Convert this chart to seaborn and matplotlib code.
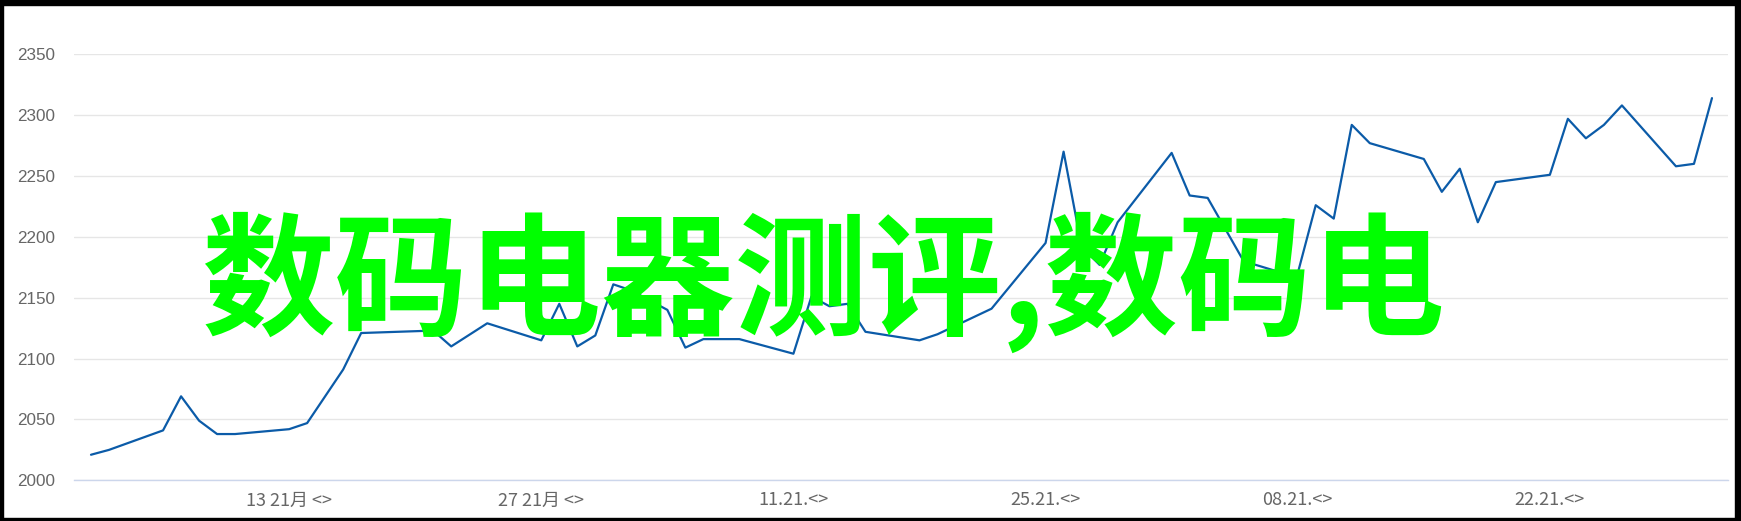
import numpy as np
import pandas as pd
import seaborn as sns
import matplotlib.pyplot as plt
from matplotlib.patches import Rectangle

# data (x = day offset, y = value)
days = [0, 1, 4, 5, 6, 7, 8, 11, 12, 14, 15, 19, 20, 22, 25, 26, 27, 28, 29, 30,
        32, 33, 34, 36, 39, 40, 41, 42, 43, 46, 47, 49, 50, 53, 54, 55, 56, 57,
        60, 61, 62, 64, 66, 67, 68, 69, 70, 71, 74, 75, 76, 77, 78, 81, 82, 83,
        84, 85, 88, 89, 90]
values = [2021, 2025, 2041, 2069, 2049, 2038, 2038, 2042, 2047, 2091, 2121, 2123,
          2110, 2129, 2115, 2145, 2110, 2119, 2161, 2156, 2140, 2109, 2116, 2116,
          2104, 2151, 2143, 2145, 2122, 2115, 2120, 2134, 2141, 2195, 2270, 2192,
          2177, 2212, 2269, 2234, 2232, 2180, 2171, 2170, 2226, 2215, 2292, 2277,
          2264, 2237, 2256, 2212, 2245, 2251, 2297, 2281, 2292, 2308, 2258, 2260,
          2314]

tick_days = [11, 25, 39, 53, 67, 81]
tick_labels = ["13 21月 <>", "27 21月 <>", "11.21.<>", "25.21.<>", "08.21.<>", "22.21.<>"]
y_ticks = [2000, 2050, 2100, 2150, 2200, 2250, 2300, 2350]
overlay = "数码电器测评,数码电"

df = pd.DataFrame({"day": days, "value": values})

sns.set_style("white")
plt.rcParams["font.family"] = ["Liberation Sans", "Noto Sans CJK SC", "DejaVu Sans"]

W, H = 1741, 521
fig = plt.figure(figsize=(W / 100, H / 100), dpi=100)
ax = fig.add_axes([74 / W, 1 - 480.3 / H, (1728 - 74) / W, (480.3 - 54.3) / H])

sns.lineplot(data=df, x="day", y="value", ax=ax, color="#0b5ba8",
             linewidth=1.6, estimator=None)

ax.set_xlim(-0.944, 90.89)
ax.set_ylim(2000, 2350)
ax.set_yticks(y_ticks)
ax.set_yticklabels([str(v) for v in y_ticks])
ax.set_xticks(tick_days)
ax.set_xticklabels(tick_labels, family=["Liberation Sans Narrow", "Noto Sans CJK SC"],
                   fontsize=13, color="#666666", fontstretch="condensed")
ax.set_xlabel("")
ax.set_ylabel("")

ax.grid(axis="y", color="#e6e6e6", linewidth=1.0)
ax.grid(axis="x", visible=False)
for s in ["top", "right", "left"]:
    ax.spines[s].set_visible(False)
ax.spines["bottom"].set_color("#ccd6eb")
ax.spines["bottom"].set_linewidth(1.0)
ax.tick_params(axis="y", length=0, pad=13.5, labelsize=12.3, labelcolor="#666666")
ax.tick_params(axis="x", length=7, width=1, color="#ccd6eb", pad=1)

# big green overlay text
fig.text(201 / W, 1 - 283 / H, overlay, color="#00ff00", fontsize=96,
         fontweight="heavy", family=["Noto Sans CJK SC"], ha="left", va="center")

# black frame around the picture
for x0, y0, w, h in [(0, 0, 3, H), (W - 6, 0, 6, H), (0, 0, W, 5), (0, H - 3, W, 3)]:
    fig.add_artist(Rectangle((x0 / W, 1 - (y0 + h) / H), w / W, h / H,
                             transform=fig.transFigure, color="black", zorder=10))

fig.savefig("out.png", dpi=100)
